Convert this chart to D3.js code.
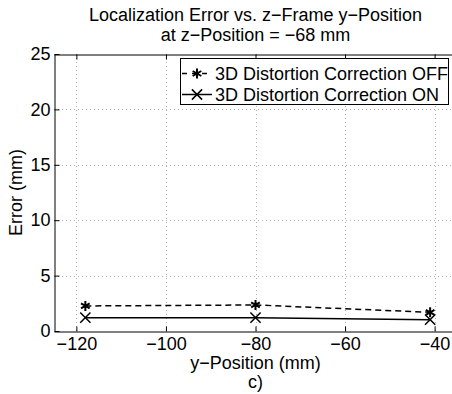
<!DOCTYPE html>
<html>
<head>
<meta charset="utf-8">
<script src="https://cdn.jsdelivr.net/npm/d3@7"></script>
<style>
  html, body { margin: 0; padding: 0; background: #fff; overflow: hidden; }
  text { font-family: "Liberation Sans", Arial, Helvetica, sans-serif; }
</style>
</head>
<body>
<script>
const yPositions = [-118, -80, -41];
const errorOff = [2.26, 2.35, 1.69];
const errorOn = [1.2, 1.2, 1.02];
const xTicks = [-120, -100, -80, -60, -40];
const yTicks = [0, 5, 10, 15, 20, 25];
const seriesNames = ["3D Distortion Correction OFF", "3D Distortion Correction ON"];
const titleLines = ["Localization Error vs. z\u2212Frame y\u2212Position", "at z\u2212Position = \u221268 mm"];

const W = 452, H = 394;
const m = { left: 54, right: W - 457, top: 54, bottom: H - 331 };
const fs = 18;

const svg = d3.select("body").append("svg").attr("width", W).attr("height", H);

const x = d3.scaleLinear().domain([-125, -35]).range([m.left, W - m.right]);
const y = d3.scaleLinear().domain([0, 25]).range([H - m.bottom, m.top]);
const fmt = d => (d < 0 ? "\u2212" + Math.abs(d) : "" + d);

// grid
const grid = svg.append("g").attr("stroke", "#b0b0b0").attr("stroke-width", 1).attr("stroke-dasharray", "1,3");
grid.selectAll("line.vx").data(xTicks).join("line")
  .attr("x1", d => Math.round(x(d)) + 0.5).attr("x2", d => Math.round(x(d)) + 0.5)
  .attr("y1", y(0)).attr("y2", y(25));
grid.selectAll("line.hy").data(yTicks.slice(1, -1)).join("line")
  .attr("y1", d => Math.round(y(d)) + 0.5).attr("y2", d => Math.round(y(d)) + 0.5)
  .attr("x1", x(-125)).attr("x2", x(-35));

// axes
const xAxisB = d3.axisBottom(x).tickValues(xTicks).tickSizeInner(-5).tickSizeOuter(0).tickPadding(6).tickFormat(fmt);
const xAxisT = d3.axisTop(x).tickValues(xTicks).tickSizeInner(-5).tickSizeOuter(0).tickFormat("");
const yAxisL = d3.axisLeft(y).tickValues(yTicks).tickSizeInner(-5).tickSizeOuter(0).tickPadding(4).tickFormat(fmt);

function styleAxis(g) {
  g.select(".domain").attr("stroke", "#000").attr("stroke-width", 1);
  g.selectAll(".tick line").attr("stroke", "#000");
  g.selectAll(".tick text").attr("fill", "#000").attr("font-size", fs)
    .attr("font-family", '"Liberation Sans", Arial, sans-serif');
}
svg.append("g").attr("transform", `translate(0,${Math.round(y(0)) + 0.5})`).call(xAxisB).call(styleAxis);
svg.append("g").attr("transform", `translate(0,${Math.round(y(25)) + 0.5})`).call(xAxisT).call(styleAxis);
svg.append("g").attr("transform", `translate(${Math.round(x(-125)) + 0.5},0)`).call(yAxisL).call(styleAxis);
svg.append("line").attr("x1", Math.round(x(-35)) + 0.5).attr("x2", Math.round(x(-35)) + 0.5)
  .attr("y1", y(0)).attr("y2", y(25)).attr("stroke", "#000");

// lines
const offData = yPositions.map((p, i) => [p, errorOff[i]]);
const onData = yPositions.map((p, i) => [p, errorOn[i]]);
const line = d3.line().x(d => x(d[0])).y(d => y(d[1]));

svg.append("path").datum(offData).attr("d", line).attr("fill", "none")
  .attr("stroke", "#000").attr("stroke-width", 1.5).attr("stroke-dasharray", "6,4");
svg.append("path").datum(onData).attr("d", line).attr("fill", "none")
  .attr("stroke", "#000").attr("stroke-width", 1.5);

const star = d3.symbol().type(d3.symbolAsterisk).size(70);
const cross = d3.symbol().type(d3.symbolTimes).size(70);

svg.append("g").selectAll("path").data(offData).join("path")
  .attr("d", star).attr("transform", d => `translate(${x(d[0])},${y(d[1])})`)
  .attr("fill", "none").attr("stroke", "#000").attr("stroke-width", 2);
svg.append("g").selectAll("path").data(onData).join("path")
  .attr("d", cross).attr("transform", d => `translate(${x(d[0])},${y(d[1])})`)
  .attr("fill", "none").attr("stroke", "#000").attr("stroke-width", 1.5);

// legend
const lg = svg.append("g");
lg.append("rect").attr("x", 180.5).attr("y", 58.5).attr("width", 268).attr("height", 46)
  .attr("fill", "#fff").attr("stroke", "#000").attr("stroke-width", 1);
const rows = [
  { name: seriesNames[0], dash: "5,5", sym: star, sw: 2, cy: 73.5 },
  { name: seriesNames[1], dash: null, sym: cross, sw: 1.5, cy: 94.5 }
];
rows.forEach(r => {
  lg.append("line").attr("x1", 182).attr("x2", 212).attr("y1", r.cy).attr("y2", r.cy)
    .attr("stroke", "#000").attr("stroke-width", 1.5).attr("stroke-dasharray", r.dash);
  lg.append("path").attr("d", r.sym).attr("transform", `translate(197,${r.cy})`)
    .attr("fill", "none").attr("stroke", "#000").attr("stroke-width", r.sw);
  lg.append("text").attr("x", 215).attr("y", r.cy).attr("dy", "0.35em")
    .attr("font-size", fs).attr("fill", "#000").text(r.name);
});

// titles
const cx = (x(-125) + x(-35)) / 2;
svg.append("text").attr("x", cx).attr("y", 21).attr("text-anchor", "middle").attr("font-size", fs).text(titleLines[0]);
svg.append("text").attr("x", cx).attr("y", 41).attr("text-anchor", "middle").attr("font-size", fs).text(titleLines[1]);
svg.append("text").attr("x", cx).attr("y", 369).attr("text-anchor", "middle").attr("font-size", fs).text("y\u2212Position (mm)");
svg.append("text").attr("x", cx).attr("y", 388).attr("text-anchor", "middle").attr("font-size", fs).text("c)");
svg.append("text").attr("transform", `translate(22,${(y(0) + y(25)) / 2}) rotate(-90)`)
  .attr("text-anchor", "middle").attr("font-size", fs).text("Error (mm)");
</script>
</body>
</html>
